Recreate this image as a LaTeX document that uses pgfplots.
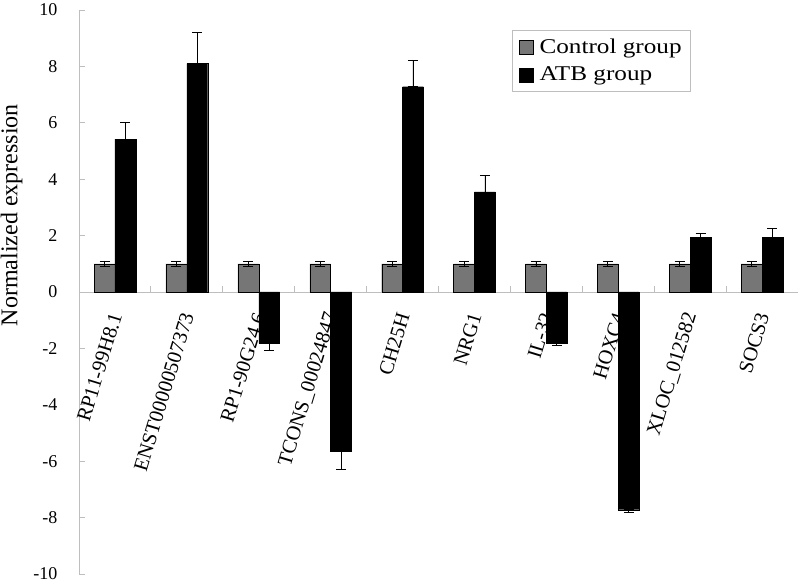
\documentclass[border=0pt]{standalone}
\usepackage{fontspec}
\setmainfont{Liberation Serif}
\newfontfamily\legfont[FakeStretch=1.2]{Liberation Serif}
\usepackage{pgfplots}
\pgfplotsset{compat=1.18}
\definecolor{axgray}{RGB}{190,190,190}
\definecolor{ctrl}{RGB}{118,118,118}
\begin{document}
\begin{tikzpicture}
\begin{axis}[
  scale only axis,
  width=719pt, height=564pt,
  xmin=-0.5, xmax=9.5, ymin=-10, ymax=10,
  ybar=0pt, bar width=0.29,
  axis y line=left, axis x line=middle,
  axis line style={-, draw=axgray, line width=0.8pt},
  /pgf/number format/assume math mode=true,
  ytick={-10,-8,...,10},
  yticklabel style={font=\fontsize{18}{18}\selectfont, xshift=-18pt},
  ytick align=inside,
  y tick style={draw=axgray, line width=0.8pt},
  major tick length=6pt,
  xtick={0,...,9},
  xticklabels={RP11-99H8.1,ENST00000507373,RP1-90G24.6,TCONS\_00024847,CH25H,NRG1,IL-32,HOXC4,XLOC\_012582,SOCS3},
  xticklabel style={font=\fontsize{20.5}{20.5}\selectfont, xshift=2pt, yshift=-18pt, rotate=73, anchor=east},
  major x tick style={draw=none},
  minor xtick={0.5,1.5,...,8.5},
  minor x tick style={draw=axgray, line width=0.8pt},
  minor tick length=6pt,
  xtick align=inside,
  ylabel={Normalized expression},
  ylabel style={at={(ticklabel cs:0.636)}, font=\fontsize{24}{24}\selectfont, anchor=south, yshift=4pt},
  legend style={at={(0.602,0.965)}, anchor=north west, draw=axgray, line width=0.6pt,
    font=\legfont\fontsize{21}{21}\selectfont, inner xsep=7pt, inner ysep=5pt,
    nodes={inner ysep=4pt}, row sep=4pt},
  legend cell align=left,
  legend image code/.code={\draw[#1, line width=0.4pt] (2pt,-7pt) rectangle (16pt,7pt); \path (20pt,0pt);},
  clip=false,
]
\addplot[draw=black, line width=0.4pt, fill=ctrl,
  error bars/.cd, y dir=both, y explicit,
  error bar style={black, line width=0.7pt},
  error mark options={rotate=90, mark size=5pt, black, line width=0.7pt}]
  coordinates {
  (0,1) +- (0,0.1)
  (1,1) +- (0,0.1)
  (2,1) +- (0,0.1)
  (3,1) +- (0,0.1)
  (4,1) +- (0,0.1)
  (5,1) +- (0,0.1)
  (6,1) +- (0,0.1)
  (7,1) +- (0,0.1)
  (8,1) +- (0,0.1)
  (9,1) +- (0,0.1)
  };
\addlegendentry{Control group}
\addplot[draw=black, line width=0.4pt, fill=black,
  error bars/.cd, y dir=both, y explicit,
  error bar style={black, line width=0.7pt},
  error mark options={rotate=90, mark size=5pt, black, line width=0.7pt}]
  coordinates {
  (0,5.42) += (0,0.6) -= (0,0)
  (1,8.1) += (0,1.1) -= (0,0)
  (2,-1.82) += (0,0) -= (0,0.25)
  (3,-5.65) += (0,0) -= (0,0.65)
  (4,7.28) += (0,0.95) -= (0,0)
  (5,3.55) += (0,0.58) -= (0,0)
  (6,-1.8) += (0,0) -= (0,0.1)
  (7,-7.72) += (0,0) -= (0,0.08)
  (8,1.95) += (0,0.12) -= (0,0)
  (9,1.95) += (0,0.3) -= (0,0)
  };
\addlegendentry{ATB group}
\end{axis}
\pgfresetboundingbox
\path[use as bounding box] ([xshift=-79pt,yshift=-10pt]current axis.south west) rectangle ([xshift=2pt,yshift=10pt]current axis.north east);
\end{tikzpicture}
\end{document}
